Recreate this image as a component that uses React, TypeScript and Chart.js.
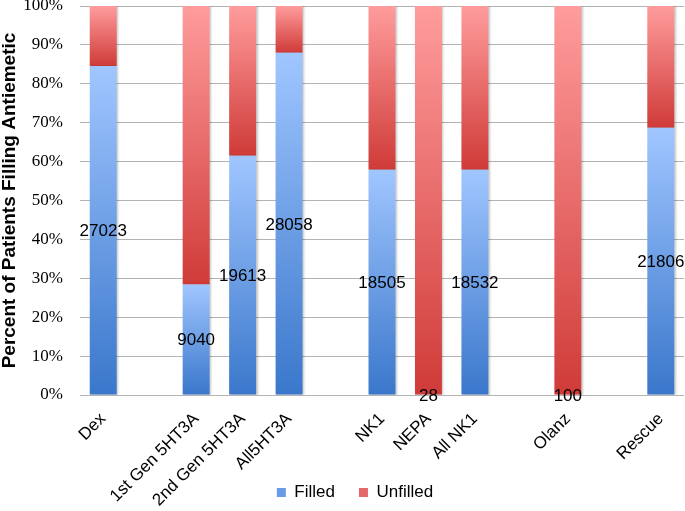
import React, { useEffect, useRef } from 'react';
import { Chart, registerables } from 'chart.js';

Chart.register(...registerables);

const categories = ['Dex', '', '1st Gen 5HT3A', '2nd Gen 5HT3A', 'All5HT3A', '', 'NK1', 'NEPA', 'All NK1', '', 'Olanz', '', 'Rescue'];
const filledPct = [84.6, null, 28.4, 61.5, 88.0, null, 57.9, 0, 57.9, null, 0, null, 68.7];
const unfilledPct = [15.4, null, 71.6, 38.5, 12.0, null, 42.1, 100, 42.1, null, 100, null, 31.3];
const filledCounts = [27023, null, 9040, 19613, 28058, null, 18505, 28, 18532, null, 100, null, 21806];
const seriesNames = ['Filled', 'Unfilled'];
const yAxisTitle = 'Percent of Patients Filling Antiemetic';

const SANS = '"Liberation Sans", Arial, Helvetica, sans-serif';
const SERIF = '"Liberation Serif", "Times New Roman", serif';

const BLUE_TOP = '#a0c6ff';
const BLUE_BOTTOM = '#3a77cb';
const RED_TOP = '#ff9c9c';
const RED_BOTTOM = '#cf3b38';

export default function App() {
  const ref = useRef<HTMLCanvasElement>(null);

  useEffect(() => {
    document.body.style.margin = '0';
    const canvas = ref.current!;

    const segGradient = (isFilled: boolean, top: string, bottom: string) => (c: any) => {
      const chart = c.chart;
      const y = chart.scales && chart.scales.y;
      if (!chart.chartArea || !y || c.dataIndex === undefined) return bottom;
      const i = c.dataIndex;
      const f = filledPct[i];
      if (f === null || f === undefined) return bottom;
      const lo = isFilled ? 0 : f;
      const hi = isFilled ? f : 100;
      const yTop = y.getPixelForValue(hi);
      const yBot = y.getPixelForValue(lo);
      if (!isFinite(yTop) || !isFinite(yBot) || yBot - yTop < 1) return bottom;
      const g = chart.ctx.createLinearGradient(0, yTop, 0, yBot);
      g.addColorStop(0, top);
      g.addColorStop(1, bottom);
      return g;
    };

    const shadowPlugin = {
      id: 'barShadow',
      beforeDatasetsDraw(chart: any) {
        const ctx = chart.ctx;
        ctx.save();
        ctx.shadowColor = 'rgba(0,0,0,0.22)';
        ctx.shadowBlur = 2;
        ctx.shadowOffsetX = 1.5;
        ctx.shadowOffsetY = 0;
      },
      afterDatasetsDraw(chart: any) {
        chart.ctx.restore();
      },
    };

    const legendShift = {
      id: 'legendShift',
      afterLayout(chart: any) {
        const lg = chart.legend;
        if (lg) {
          lg.left += 13;
          lg.right += 13;
        }
      },
    };

    const labelPlugin = {
      id: 'countLabels',
      afterDraw(chart: any) {
        const ctx = chart.ctx;
        const meta = chart.getDatasetMeta(0);
        const y = chart.scales.y;
        ctx.save();
        ctx.font = `17px ${SANS}`;
        ctx.fillStyle = '#000';
        ctx.textAlign = 'center';
        ctx.textBaseline = 'middle';
        meta.data.forEach((el: any, i: number) => {
          const v = filledCounts[i];
          const f = filledPct[i];
          if (v === null || f === null) return;
          const yc = (y.getPixelForValue(0) + y.getPixelForValue(f)) / 2;
          ctx.fillText(String(v), el.x, yc + 1);
        });
        ctx.restore();
      },
    };

    const chart = new Chart(canvas, {
      type: 'bar',
      data: {
        labels: categories,
        datasets: [
          {
            label: seriesNames[0],
            data: filledPct,
            backgroundColor: segGradient(true, BLUE_TOP, BLUE_BOTTOM),
            borderWidth: 0,
            barPercentage: 0.58,
            categoryPercentage: 1,
          },
          {
            label: seriesNames[1],
            data: unfilledPct,
            backgroundColor: segGradient(false, RED_TOP, RED_BOTTOM),
            borderWidth: 0,
            barPercentage: 0.58,
            categoryPercentage: 1,
          },
        ],
      },
      options: {
        responsive: false,
        animation: false,
        events: [],
        layout: {
          autoPadding: false,
          padding: { top: 6, right: 1, left: 0, bottom: 0 },
        },
        plugins: {
          tooltip: { enabled: false },
          legend: {
            position: 'bottom',
            labels: {
              boxWidth: 9,
              boxHeight: 9,
              padding: 24,
              color: '#000',
              font: { family: SANS, size: 17 },
              generateLabels: () => [
                { text: seriesNames[0], fillStyle: '#6a9be6', strokeStyle: '#6a9be6', lineWidth: 0, hidden: false, datasetIndex: 0 },
                { text: seriesNames[1], fillStyle: '#e46a6a', strokeStyle: '#e46a6a', lineWidth: 0, hidden: false, datasetIndex: 1 },
              ],
            },
          },
        },
        scales: {
          x: {
            stacked: true,
            grid: { display: false, drawTicks: false },
            border: { display: false },
            ticks: {
              color: '#000',
              font: { family: SANS, size: 17 },
              minRotation: 45,
              maxRotation: 45,
              autoSkip: false,
              padding: 14,
            },
            afterFit(scale: any) {
              const lg = scale.chart.legend;
              const lh = lg && lg.height ? lg.height : 54;
              scale.height = 511 - 395 - lh;
              scale.paddingLeft = 0;
              scale.paddingRight = 0;
              scale._computeLabelArea = () => undefined;
            },
          },
          y: {
            stacked: true,
            min: 0,
            max: 100,
            grid: { color: '#b3b3b3', lineWidth: 1, drawTicks: false },
            border: { display: false },
            ticks: {
              stepSize: 10,
              color: '#000',
              padding: 17,
              font: { family: SERIF, size: 17 },
              callback: (v: any) => `${v}%`,
            },
            title: {
              display: true,
              text: yAxisTitle,
              color: '#000',
              padding: { top: 0, bottom: 0 },
              font: { family: SANS, size: 19, weight: 'bold', lineHeight: 1 },
            },
            afterFit(scale: any) {
              scale.width = 80;
              scale.paddingTop = 0;
              scale.paddingBottom = 0;
            },
          },
        },
      },
      plugins: [shadowPlugin, labelPlugin, legendShift],
    } as any);

    return () => chart.destroy();
  }, []);

  return (
    <div style={{ width: 685, height: 511, background: '#fff' }}>
      <canvas ref={ref} width={685} height={511} style={{ display: 'block' }} />
    </div>
  );
}
